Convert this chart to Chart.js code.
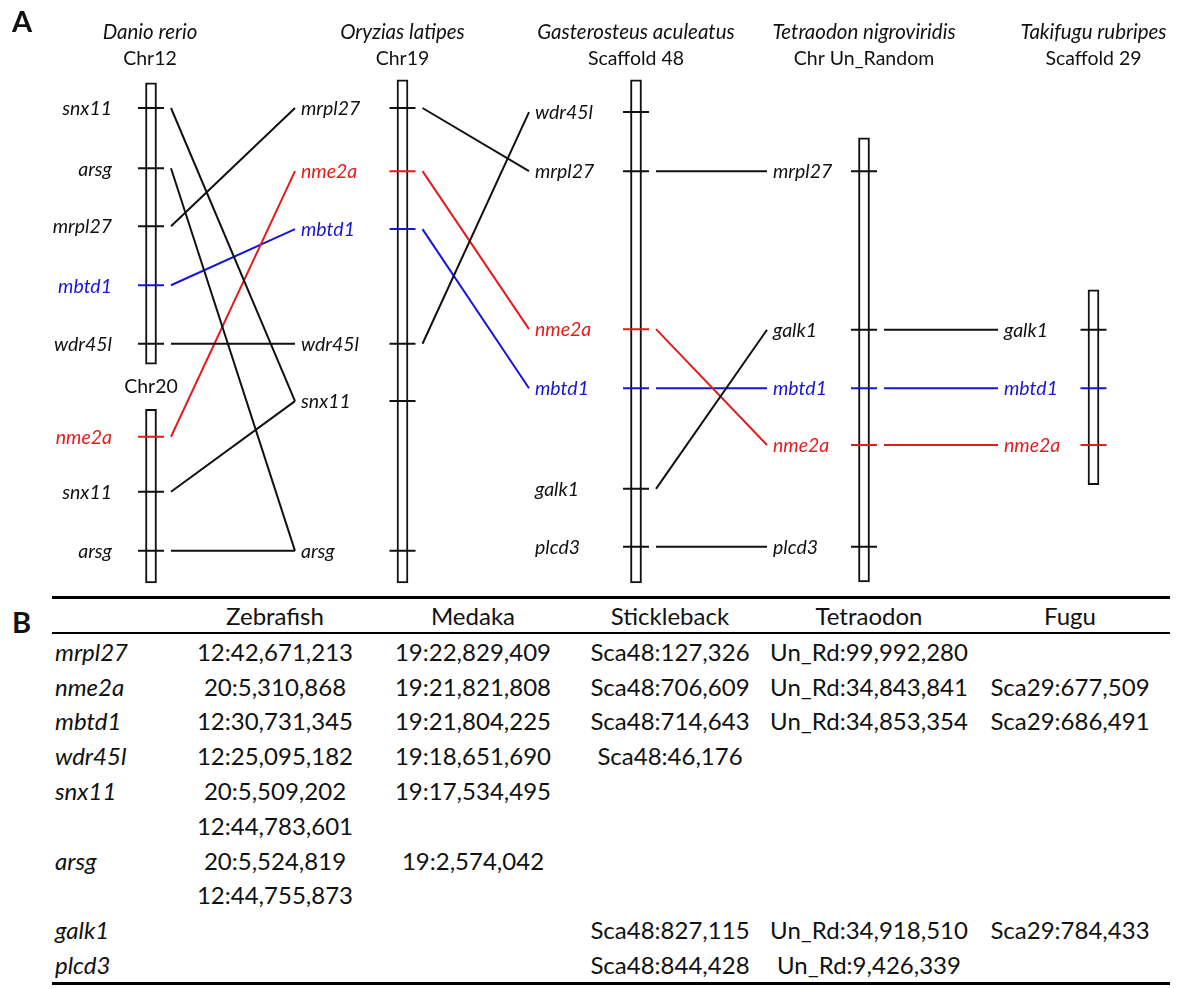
<!DOCTYPE html>
<html><head><meta charset="utf-8">
<script src="https://cdn.jsdelivr.net/npm/chart.js@4.4.1/dist/chart.umd.min.js"></script>
<style>
html,body{margin:0;padding:0;background:#fff;}
body{width:1200px;height:989px;position:relative;overflow:hidden;font-family:Lato,'Open Sans',sans-serif;color:#111;}
#c{position:absolute;left:0;top:0;width:1200px;height:590px;}
#letterB{position:absolute;left:12px;top:604px;font-weight:bold;font-size:29px;line-height:36px;}
table{position:absolute;left:52px;top:596px;width:1118px;border-collapse:collapse;table-layout:fixed;font-size:24px;}
th{font-weight:normal;height:33px;padding:0;text-align:center;border-top:3px solid #000;border-bottom:2.5px solid #000;}
td{height:34.8px;padding:0;text-align:center;white-space:nowrap;}
td.g{text-align:left;padding-left:3px;font-style:italic;}
tr.last td{border-bottom:3px solid #000;}
</style>
</head><body>
<canvas id="c" width="1200" height="590"></canvas>
<div id="letterB">B</div>
<table id="tbl"></table>
<script>
// ---------------- DATA ----------------
const species = ['Danio rerio','Oryzias latipes','Gasterosteus aculeatus','Tetraodon nigroviridis','Takifugu rubripes'];
const chromNames = ['Chr12','Chr19','Scaffold 48','Chr Un_Random','Scaffold 29'];

// gene order along each schematic map (position in map rows, 0 = first row)
const danioChr12Genes = ['snx11','arsg','mrpl27','mbtd1','wdr45l'];
const danioChr12Pos   = [0, 1.03, 2.02, 3.03, 4.03];
const danioChr12Span  = [-0.43, 4.38];
const danioChr20Genes = ['nme2a','snx11','arsg'];
const danioChr20Pos   = [5.62, 6.56, 7.57];
const danioChr20Span  = [5.15, 8.12];
const medakaGenes = ['mrpl27','nme2a','mbtd1','wdr45l','snx11','arsg'];
const medakaPos   = [0, 1.08, 2.07, 4.03, 5.01, 7.57];
const medakaSpan  = [-0.48, 8.12];
const sticklebackGenes = ['wdr45l','mrpl27','nme2a','mbtd1','galk1','plcd3'];
const sticklebackPos   = [0.07, 1.08, 3.78, 4.79, 6.51, 7.50];
const sticklebackSpan  = [-0.48, 8.12];
const tetraodonGenes = ['mrpl27','galk1','mbtd1','nme2a','plcd3'];
const tetraodonPos   = [1.08, 3.79, 4.79, 5.76, 7.50];
const tetraodonSpan  = [0.51, 8.10];
const fuguGenes = ['galk1','mbtd1','nme2a'];
const fuguPos   = [3.79, 4.79, 5.76];
const fuguSpan  = [3.11, 6.44];

// table (panel B)
const tableHeaders = ['Zebrafish','Medaka','Stickleback','Tetraodon','Fugu'];
const tableGenes = ['mrpl27','nme2a','mbtd1','wdr45l','snx11','','arsg','','galk1','plcd3'];
const zebrafishLoc = ['12:42,671,213','20:5,310,868','12:30,731,345','12:25,095,182','20:5,509,202','12:44,783,601','20:5,524,819','12:44,755,873','',''];
const medakaLoc = ['19:22,829,409','19:21,821,808','19:21,804,225','19:18,651,690','19:17,534,495','','19:2,574,042','','',''];
const sticklebackLoc = ['Sca48:127,326','Sca48:706,609','Sca48:714,643','Sca48:46,176','','','','','Sca48:827,115','Sca48:844,428'];
const tetraodonLoc = ['Un_Rd:99,992,280','Un_Rd:34,843,841','Un_Rd:34,853,354','','','','','','Un_Rd:34,918,510','Un_Rd:9,426,339'];
const fuguLoc = ['','Sca29:677,509','Sca29:686,491','','','','','','Sca29:784,433',''];

// ---------------- LAYOUT / STYLE ----------------
const RED = '#e51b1b', BLUE = '#1616d8', BLACK = '#111';
const colX = [151, 402.5, 636, 864, 1093.5];         // map column centres (x-axis units)
const labelX = [112, 301, 535, 773, 1004];           // label anchor per column
const ROW0_PX = 108, ROW_PX = 58.5, CANVAS_H = 590;
const geneColor = g => g === 'nme2a' ? RED : (g === 'mbtd1' ? BLUE : BLACK);

const maps = [
  {col:0, genes:danioChr12Genes, pos:danioChr12Pos, span:danioChr12Span},
  {col:0, genes:danioChr20Genes, pos:danioChr20Pos, span:danioChr20Span},
  {col:1, genes:medakaGenes, pos:medakaPos, span:medakaSpan},
  {col:2, genes:sticklebackGenes, pos:sticklebackPos, span:sticklebackSpan},
  {col:3, genes:tetraodonGenes, pos:tetraodonPos, span:tetraodonSpan},
  {col:4, genes:fuguGenes, pos:fuguPos, span:fuguSpan}
];

// chromosome bars
const barData = maps.map(m => ({x: colX[m.col], y: [m.span[0], m.span[1]]}));

// ticks & connections, split by colour
const tickSeg = {}, linkSeg = {};
[BLACK, RED, BLUE].forEach(c => { tickSeg[c] = []; linkSeg[c] = []; });
maps.forEach(m => m.genes.forEach((g, i) => {
  const c = geneColor(g), x0 = colX[m.col];
  tickSeg[c].push({x: x0 - 13, y: m.pos[i]}, {x: x0 + 13, y: m.pos[i]}, {x: x0 + 13, y: null});
}));
for (let col = 0; col < 4; col++) {
  maps.filter(m => m.col === col).forEach(a => a.genes.forEach((g, i) => {
    maps.filter(m => m.col === col + 1).forEach(b => {
      const j = b.genes.indexOf(g);
      if (j < 0) return;
      const c = geneColor(g);
      linkSeg[c].push({x: colX[col] + 20, y: a.pos[i]}, {x: labelX[col + 1] - 6, y: b.pos[j]}, {x: labelX[col + 1] - 6, y: null});
    });
  }));
}

const datasets = [{
  type: 'bar', data: barData, backgroundColor: '#fff', borderColor: BLACK,
  borderWidth: 2, borderSkipped: false, barThickness: 11, grouped: false, order: 10
}];
[BLACK, RED, BLUE].forEach(c => {
  datasets.push({type:'line', data: tickSeg[c], borderColor: c, borderWidth: 2, pointRadius: 0, spanGaps: false, order: 1});
  datasets.push({type:'line', data: linkSeg[c], borderColor: c, borderWidth: 2, pointRadius: 0, spanGaps: false, order: 2});
});

const textPlugin = {
  id: 'mapText',
  afterDatasetsDraw(chart) {
    const {ctx} = chart, xs = chart.scales.x, ys = chart.scales.y;
    ctx.save();
    ctx.textBaseline = 'middle';
    ctx.fillStyle = BLACK;
    ctx.font = 'bold 29px Lato, sans-serif';
    ctx.textAlign = 'left';
    ctx.fillText('A', 12, 23);
    ctx.textAlign = 'center';
    species.forEach((s, i) => {
      const cx = xs.getPixelForValue(colX[i]) - (i === 0 ? 1 : 0);
      ctx.font = 'italic 20.5px Lato, sans-serif';
      ctx.fillText(s, cx, 32);
      ctx.font = '19.5px Lato, sans-serif';
      ctx.fillText(chromNames[i], cx, 59);
    });
    ctx.font = '19.5px Lato, sans-serif';
    ctx.fillText('Chr20', xs.getPixelForValue(colX[0]), ys.getPixelForValue(danioChr20Span[0]) - 23);
    ctx.font = 'italic 19.5px Lato, sans-serif';
    maps.forEach(m => m.genes.forEach((g, i) => {
      ctx.fillStyle = geneColor(g);
      ctx.textAlign = m.col === 0 ? 'right' : 'left';
      ctx.fillText(g, xs.getPixelForValue(labelX[m.col]), ys.getPixelForValue(m.pos[i]) + 1);
    }));
    ctx.restore();
  }
};

new Chart(document.getElementById('c'), {
  type: 'scatter',
  data: {datasets},
  options: {
    responsive: false, animation: false, events: [],
    layout: {padding: 0},
    plugins: {legend: {display: false}, tooltip: {enabled: false}},
    scales: {
      x: {type: 'linear', min: 0, max: 1200, display: false, offset: false},
      y: {type: 'linear', reverse: true, display: false, offset: false,
          min: -ROW0_PX / ROW_PX, max: (CANVAS_H - ROW0_PX) / ROW_PX}
    }
  },
  plugins: [textPlugin]
});

// ---------------- TABLE ----------------
const tbl = document.getElementById('tbl');
const colW = [124, 198, 198, 196, 202, 200];
let html = '<colgroup>' + colW.map(w => `<col style="width:${w}px">`).join('') + '</colgroup>';
html += '<tr><th></th>' + tableHeaders.map(h => `<th>${h}</th>`).join('') + '</tr>';
const cols = [zebrafishLoc, medakaLoc, sticklebackLoc, tetraodonLoc, fuguLoc];
tableGenes.forEach((g, r) => {
  html += `<tr${r === tableGenes.length - 1 ? ' class="last"' : ''}><td class="g">${g}</td>` +
    cols.map(c => `<td>${c[r]}</td>`).join('') + '</tr>';
});
tbl.innerHTML = html;
</script>
</body></html>
